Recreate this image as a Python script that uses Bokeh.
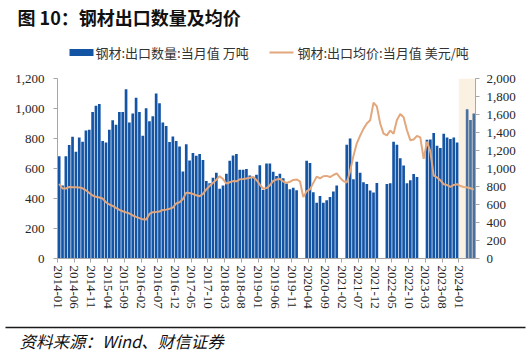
import pandas as pd
from bokeh.plotting import figure
from bokeh.layouts import column
from bokeh.models import (Range1d, LinearAxis, FixedTicker, SingleIntervalTicker,
                          NumeralTickFormatter, BoxAnnotation, ColumnDataSource)
from bokeh.core.properties import value
from bokeh.embed import file_html
from bokeh.resources import INLINE

# ---------------- data ----------------
title_text = "图 10：钢材出口数量及均价"
source_text = "资料来源：Wind、财信证券"
bar_name = "钢材:出口数量:当月值 万吨"
line_name = "钢材:出口均价:当月值 美元/吨"

months = [str(m) for m in pd.period_range("2014-01", "2024-05", freq="M")]
tick_labels = ["2014-01", "2014-06", "2014-11", "2015-04", "2015-09", "2016-02",
               "2016-07", "2016-12", "2017-05", "2017-10", "2018-03", "2018-08",
               "2019-01", "2019-06", "2019-11", "2020-04", "2020-09", "2021-02",
               "2021-07", "2021-12", "2022-05", "2022-10", "2023-03", "2023-08",
               "2024-01"]
shade_from = "2024-01"

# export volume, 10k tonnes (None = not published separately)
volume = [682, 486, 682, 756, 812, 712, 807, 778, 854, 859, 977, 1019,
          1030, 783, 774, 859, 921, 892, 977, 977, 1129, 906, 966, 1071,
          977, 819, 1002, 915, 948, 1100, 1035, 906, 883, 776, 814, 783,
          746, 580, 762, 654, 703, 685, 697, 657, 517, 501, 539, 571,
          465, 487, 565, 652, 687, 696, 592, 592, 597, 553, 545, 559,
          622, 457, 634, 634, 578, 550, 565, 535, 500, 462, 472, 455,
          None, None, 651, 636, 442, 372, 416, 372, 388, 410, 446, 487,
          None, None, 759, 800, 529, 645, 572, 508, 497, 453, 440, 504,
          None, None, 497, 502, 778, 758, 669, 620, 502, 521, 564, 544,
          None, None, 792, 794, 836, 752, 736, 832, 807, 796, 807, 774,
          None, None, 995, 923, 966]

# average export price, USD/tonne
price = [829, 778, 778, 795, 792, 792, 790, 780, 758, 728, 700, 685,
         677, 666, 625, 600, 585, 562, 540, 525, 512, 500, 478, 462,
         448, 435, 432, 495, 515, 518, 522, 540, 543, 552, 566, 612,
         625, 660, 732, 728, 716, 702, 692, 718, 768, 805, 842, 876,
         915, 882, 832, 847, 860, 858, 880, 883, 888, 898, 905, 872,
         820, 775, 782, 812, 862, 877, 885, 856, 840, 852, 873, 878,
         858, 682, 748, 768, 840, 910, 890, 914, 918, 905, 928, 945,
         898, 860, 845, 970, 1140, 1280, 1365, 1440, 1500, 1535, 1730, 1690,
         1500, 1388, 1368, 1422, 1385, 1540, 1605, 1570, 1425, 1315, 1322, 1362,
         1345, 1108, 1298, 1188, 922, 900, 868, 825, 816, 797, 817, 826,
         805, 795, 790, 780, 765]

# ---------------- style ----------------
W = 530
BAR = "#1454A5"
LINE = "#E3A77D"
CJK = "Noto Sans CJK SC"
SERIF = "Liberation Serif"


def strip(h, **kw):
    opts = dict(width=W, height=h, x_range=Range1d(0, W), y_range=Range1d(0, h),
                output_backend="svg", toolbar_location=None, min_border=0,
                outline_line_color=None, x_axis_type=None, y_axis_type=None,
                frame_align=False)
    opts.update(kw)
    return figure(**opts)


# ---------------- title strip ----------------
T1 = 34
t1 = strip(T1)
t1.text(x=[17], y=[T1 - 16], text=[title_text], text_font=value(CJK),
        text_font_style="bold", text_font_size="18px", text_baseline="middle",
        text_color="#111111")

# ---------------- title rule (thin strip whose frame is the rule) ----------------
rule = figure(width=W, height=2, x_range=Range1d(0, 1), y_range=Range1d(0, 1),
              output_backend="svg", toolbar_location=None, min_border=0,
              min_border_left=6, min_border_right=13, outline_line_color=None,
              x_axis_type=None, y_axis_type=None, frame_align=False,
              background_fill_color="#1a1a1a", border_fill_color="white")

# ---------------- legend strip ----------------
T2 = 32
t2 = strip(T2)
LY = T2 - 16
t2.quad(left=[69], right=[93], bottom=[LY - 3.5], top=[LY + 3.5], fill_color=BAR,
        line_color=None)
t2.quad(left=[269], right=[293], bottom=[LY - 1], top=[LY + 1], fill_color=LINE,
        line_color=None)
t2.text(x=[95, 297], y=[LY, LY], text=[bar_name, line_name], text_font=value(CJK),
        text_font_size="13px", text_baseline="middle", text_color="#333333")

# ---------------- main chart ----------------
n = len(months)
xc = [i + 0.5 for i in range(n)]
bsrc = ColumnDataSource(dict(x=[xc[i] for i in range(n) if volume[i] is not None],
                             top=[v for v in volume if v is not None]))
lsrc = ColumnDataSource(dict(x=xc, y=price))

p = figure(width=W, height=250, x_range=Range1d(0, n), y_range=Range1d(0, 1200),
           output_backend="svg", toolbar_location=None,
           min_border_left=57, min_border_right=55, min_border_top=10,
           min_border_bottom=60, outline_line_color=None, frame_align=False)
p.extra_y_ranges = {"price": Range1d(0, 2000)}
p.xgrid.visible = False
p.ygrid.visible = False

p.vbar(x="x", top="top", width=0.8, source=bsrc, fill_color=BAR, line_color=None)
p.line(x="x", y="y", source=lsrc, y_range_name="price", line_color=LINE,
       line_width=2)

i0 = months.index(shade_from)
p.add_layout(BoxAnnotation(left=i0, right=n, fill_color="#EFC890", fill_alpha=0.25,
                           line_color=None))

right = LinearAxis(y_range_name="price")
p.add_layout(right, "right")


def style(ax):
    ax.axis_line_color = "#A6A6A6"
    ax.major_tick_line_color = "#A6A6A6"
    ax.minor_tick_line_color = None
    ax.major_tick_in = 0
    ax.major_tick_out = 4
    ax.major_label_text_font = SERIF
    ax.major_label_text_font_size = "13px"
    ax.major_label_text_color = "#262626"


for ax in [p.xaxis[0], p.yaxis[0], right]:
    style(ax)

p.yaxis[0].ticker = SingleIntervalTicker(interval=200)
p.yaxis[0].formatter = NumeralTickFormatter(format="0,0")
p.yaxis[0].major_label_standoff = 9
right.ticker = SingleIntervalTicker(interval=200)
right.formatter = NumeralTickFormatter(format="0,0")
right.major_label_standoff = 7

tick_pos = [months.index(s) for s in tick_labels]
p.xaxis[0].ticker = FixedTicker(ticks=tick_pos)
p.xaxis[0].major_label_overrides = {k: s for k, s in zip(tick_pos, tick_labels)}
p.xaxis[0].major_label_orientation = "vertical"
p.xaxis[0].major_label_standoff = 3

# ---------------- footer strip ----------------
FH = 36
f = strip(FH)
f.quad(left=[5], right=[525], bottom=[FH - 9.8], top=[FH - 8.2],
       fill_color="#1a1a1a", line_color=None)
f.text(x=[19], y=[FH - 22.5], text=[source_text], text_font=value(CJK),
       text_font_style="italic", text_font_size="16.5px", text_baseline="middle",
       text_color="#111111")

layout = column(t1, rule, t2, p, f, spacing=0)
open("out.html", "w").write(file_html(layout, INLINE))
